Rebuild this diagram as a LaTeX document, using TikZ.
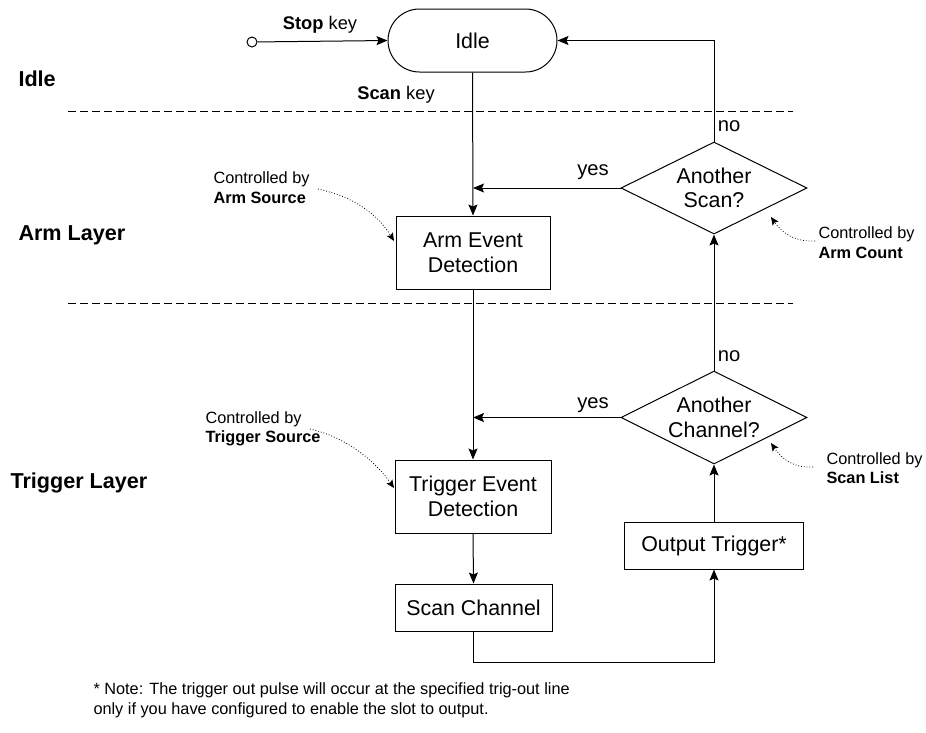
\documentclass[tikz,border=0pt]{standalone}
\usepackage{fontspec}
\setmainfont{Liberation Sans}
\usetikzlibrary{shapes.geometric,arrows.meta,calc}
\begin{document}
\begin{tikzpicture}[x=1pt,y=-1pt,
  line width=1pt,
  main/.style={font=\fontsize{21.4}{24.6}\selectfont},
  boxnode/.style={draw,rectangle,inner sep=0pt,align=center,main},
  dnode/.style={draw,diamond,inner sep=0pt,minimum width=186pt,minimum height=93pt},
  layerlabel/.style={font=\fontsize{21.6}{24}\selectfont\bfseries,anchor=west,inner sep=0pt},
  keylabel/.style={font=\fontsize{18.3}{21}\selectfont,inner sep=0pt},
  yn/.style={font=\fontsize{20.2}{23}\selectfont,inner sep=0pt},
  note/.style={font=\fontsize{16.3}{19.6}\selectfont,align=left,anchor=west,inner sep=0pt},
  arr/.style={-{Stealth[length=11pt,width=9pt,inset=2pt]}},
  darr/.style={dotted,line width=0.8pt,-{Stealth[length=8pt,width=7pt,inset=1.5pt]}},
  sep/.style={dash pattern=on 8pt off 4pt,line width=0.9pt}
]
\useasboundingbox (0,0) rectangle (926,732);

% layer separators
\draw[sep] (68,111) -- (793,111);
\draw[sep] (68,303) -- (793,303);

% layer labels
\node[layerlabel] (lidle) at (18,79) {Idle};
\node[layerlabel] (larm) at (18,235) {Arm Layer};
\node[layerlabel] (ltrig) at (10,483) {Trigger Layer};

% nodes
\node[draw,circle,minimum size=10pt,inner sep=0pt,fill=white] (start) at (252,42) {};
\node[boxnode,rounded corners=31.5pt,minimum width=169pt,minimum height=63pt] (idle) at (472.5,40.5) {Idle};
\node[boxnode,minimum width=154pt,minimum height=73pt] (ae) at (473,252.5) {Arm Event\\Detection};
\node[boxnode,minimum width=156pt,minimum height=73pt] (te) at (473,496.5) {Trigger Event\\Detection};
\node[boxnode,minimum width=157pt,minimum height=47pt] (sc) at (473.5,607.5) {Scan Channel};
\node[boxnode,minimum width=179pt,minimum height=47pt] (ot) at (714,545.5) {Output Trigger*};

\node[dnode,minimum height=92pt] (d1) at (714,188) {};
\node[main,align=center,inner sep=0pt] (d1t) at (d1.center) {Another\\Scan?};
\node[dnode] (d2) at (714,417.5) {};
\node[main,align=center,inner sep=0pt] (d2t) at (d2.center) {Another\\Channel?};

% key labels
\node[keylabel] (stopk) at (320,25) {\textbf{Stop} key};
\node[keylabel] (scank) at (396,95) {\textbf{Scan} key};

% connectors
\draw[arr] (start) -- (idle.west);
\draw[arr] (idle.south) -- (ae.north);
\draw[arr] (ae.south) -- (te.north);
\draw[arr] (te.south) -- (sc.north);
\draw[arr] (sc.south) -- ++(0,31) -| (ot.south);
\draw[arr] (ot.north) -- (d2.south);
\draw[arr] (d2.north) -- (d1.south);
\draw[arr] (d1.north) |- (idle.east);
\draw[arr] (d1.west) -- (d1.west -| ae.north);
\draw[arr] (d2.west) -- (d2.west -| te.north);

% yes / no labels
\node[yn] (no1) at (729,126) {no};
\node[yn] (yes1) at (593,172) {yes};
\node[yn] (no2) at (729,356) {no};
\node[yn] (yes2) at (593,405) {yes};

% annotations
\node[note] (nas) at (213,187.5) {Controlled by\\\textbf{Arm Source}};
\node[note] (nts) at (205,429) {Controlled by\\\textbf{Trigger Source}};
\node[note] (nac) at (818,242.5) {Controlled by\\\textbf{Arm Count}};
\node[note] (nsl) at (826,468) {Controlled by\\\textbf{Scan List}};

\coordinate (asS) at (318,189);
\coordinate (asE) at (394,241);
\coordinate (tsS) at (310,429);
\coordinate (tsE) at (394,488);
\coordinate (acS) at (815,241);
\coordinate (acE) at (771,217);
\coordinate (slS) at (813,467);
\coordinate (slE) at (771,443);

\draw[darr] (asS) .. controls (355,197) and (378,215) .. (asE);
\draw[darr] (tsS) .. controls (350,438) and (378,465) .. (tsE);
\draw[darr] (acS) .. controls (795,242) and (782,233) .. (acE);
\draw[darr] (slS) .. controls (793,468) and (782,459) .. (slE);

% footnote
\node[note] (fn) at (93,700.5) {* Note: The trigger out pulse will occur at the specified trig-out line\\only if you have configured to enable the slot to output.};
\end{tikzpicture}
\end{document}
